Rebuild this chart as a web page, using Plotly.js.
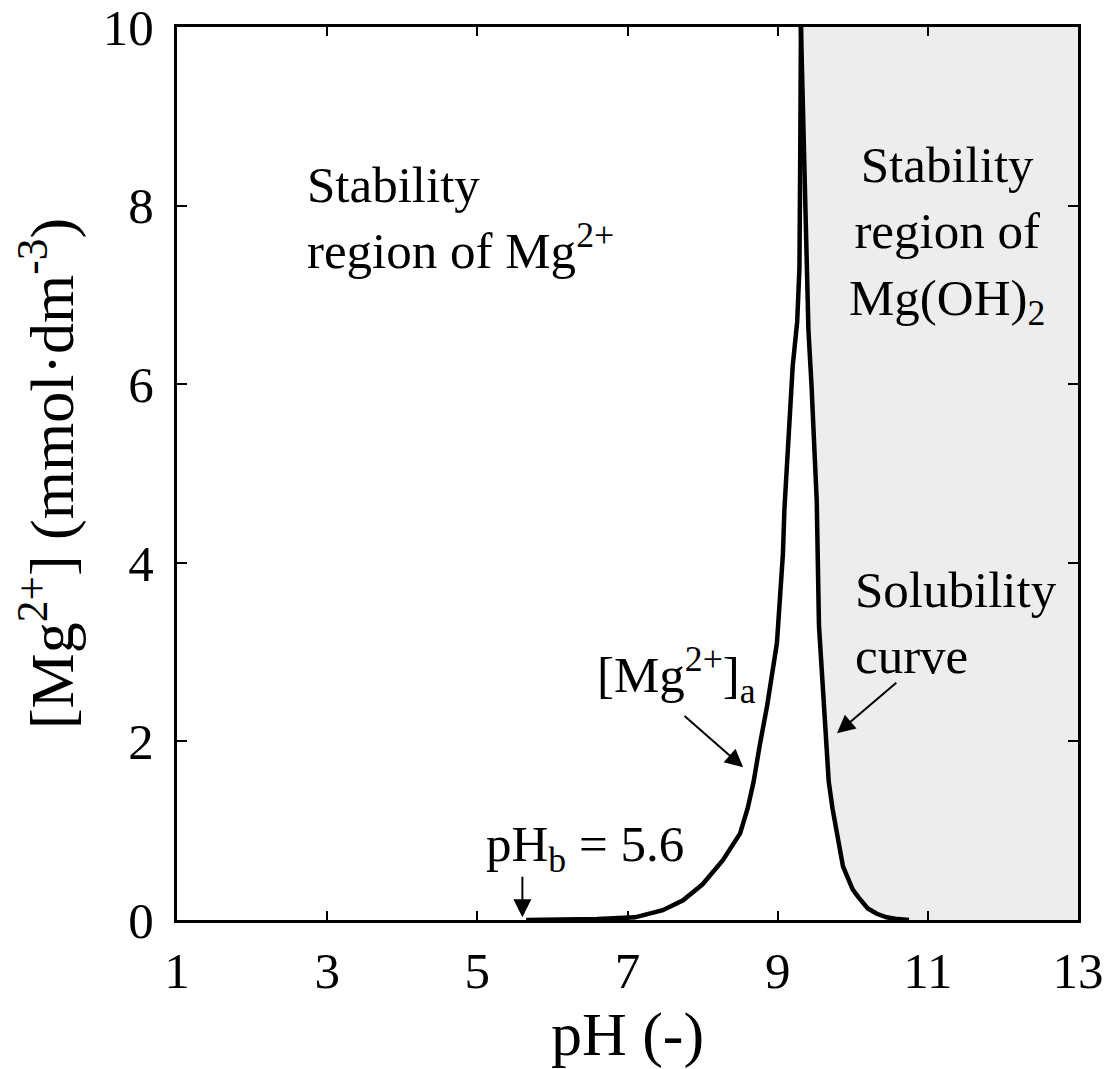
<!DOCTYPE html>
<html>
<head>
<meta charset="utf-8">
<script src="https://cdn.plot.ly/plotly-3.0.1.min.js"></script>
<style>html,body{margin:0;padding:0;background:#fff;}#chart{width:1109px;height:1069px;}</style>
</head>
<body>
<div id="chart"></div>
<script>
// [Mg2+]a curve (left branch)
var mgA_pH  = [5.65, 6.00, 6.60, 7.10, 7.30, 7.47, 7.74, 8.00, 8.27, 8.50, 8.60, 8.68, 8.76, 8.86, 8.99, 9.07, 9.09, 9.12, 9.16, 9.20, 9.26, 9.29, 9.30, 9.31];
var mgA_val = [0.00, 0.00, 0.01, 0.03, 0.07, 0.11, 0.22, 0.40, 0.67, 0.97, 1.25, 1.55, 1.95, 2.40, 3.10, 4.10, 4.60, 5.10, 5.60, 6.20, 6.70, 7.30, 8.50, 10.00];

// Solubility curve of Mg(OH)2 (right branch)
var sol_pH  = [9.31, 9.34, 9.36, 9.38, 9.41, 9.45, 9.49, 9.52, 9.55, 9.60, 9.64, 9.68, 9.73, 9.79, 9.87, 9.93, 10.00, 10.08, 10.20, 10.32, 10.45, 10.60, 10.75];
var sol_val = [10.0, 9.0, 8.2, 7.5, 6.6, 6.0, 5.3, 4.7, 3.3, 2.6, 2.0, 1.55, 1.25, 0.97, 0.60, 0.48, 0.34, 0.25, 0.13, 0.07, 0.03, 0.01, 0.00];

var xRange = [1, 13];
var yRange = [0, 10];
var xTicks = [1, 3, 5, 7, 9, 11, 13];
var yTicks = [0, 2, 4, 6, 8, 10];
var pHb = 5.6;

var FONT = "Liberation Serif, Times New Roman, serif";

var shadeX = sol_pH.concat([xRange[1], xRange[1]]);
var shadeY = sol_val.concat([yRange[0], yRange[1]]);

var traces = [
  {x: shadeX, y: shadeY, type: 'scatter', mode: 'lines', fill: 'toself',
   fillcolor: '#ededed', line: {width: 0, color: 'rgba(0,0,0,0)'}, hoverinfo: 'skip', showlegend: false},
  {x: mgA_pH, y: mgA_val, type: 'scatter', mode: 'lines',
   line: {color: '#000', width: 4.5}, showlegend: false},
  {x: sol_pH, y: sol_val, type: 'scatter', mode: 'lines',
   line: {color: '#000', width: 4.5}, showlegend: false}
];

var txt = {family: FONT, size: 51, color: '#000'};

var annotations = [
  {xref: 'x', yref: 'y', x: 2.71, y: 7.86, xanchor: 'left', yanchor: 'middle', align: 'left',
   text: 'Stability<br>region of Mg<sup>2+</sup>', showarrow: false, font: txt},
  {xref: 'x', yref: 'y', x: 11.26, y: 7.67, xanchor: 'center', yanchor: 'middle', align: 'center',
   text: 'Stability<br>region of<br>Mg(OH)<sub>2</sub>', showarrow: false, font: txt},
  {xref: 'x', yref: 'y', x: 10.0, y: 3.33, xanchor: 'left', yanchor: 'middle', align: 'left',
   text: 'Solubility<br>curve', showarrow: false, font: txt},
  {xref: 'x', yref: 'y', x: 7.65, y: 2.74, xanchor: 'center', yanchor: 'middle',
   text: '[Mg<sup>2+</sup>]<sub>a</sub>', showarrow: false, font: txt},
  {xref: 'x', yref: 'y', x: 6.43, y: 0.81, xanchor: 'center', yanchor: 'middle',
   text: 'pH<sub>b</sub> = 5.6', showarrow: false, font: txt},
  // arrows
  {xref: 'x', yref: 'y', axref: 'x', ayref: 'y', x: pHb, y: 0.03, ax: pHb, ay: 0.50,
   text: '', showarrow: true, arrowhead: 2, arrowsize: 1.8, arrowwidth: 2, arrowcolor: '#000'},
  {xref: 'x', yref: 'y', axref: 'x', ayref: 'y', x: 8.54, y: 1.71, ax: 7.74, ay: 2.30,
   text: '', showarrow: true, arrowhead: 2, arrowsize: 1.8, arrowwidth: 2, arrowcolor: '#000'},
  {xref: 'x', yref: 'y', axref: 'x', ayref: 'y', x: 9.79, y: 2.09, ax: 10.60, ay: 2.67,
   text: '', showarrow: true, arrowhead: 2, arrowsize: 1.8, arrowwidth: 2, arrowcolor: '#000'}
];

var layout = {
  width: 1109, height: 1069,
  margin: {l: 177, r: 31, t: 27, b: 149},
  paper_bgcolor: '#fff', plot_bgcolor: '#fff',
  font: {family: FONT, color: '#000'},
  showlegend: false,
  xaxis: {
    range: xRange, tickvals: xTicks, ticktext: xTicks.map(String),
    ticks: 'inside', ticklen: 9, tickwidth: 2, tickcolor: '#000',
    showline: true, linewidth: 3, linecolor: '#000', mirror: 'ticks',
    showgrid: false, zeroline: false,
    tickfont: {family: FONT, size: 51, color: '#000'},
    ticklabelstandoff: 4, ticklabeloverflow: 'allow',
    title: {text: 'pH (-)', font: {family: FONT, size: 62, color: '#000'}, standoff: 18}
  },
  yaxis: {
    range: yRange, tickvals: yTicks, ticktext: yTicks.map(String),
    ticks: 'inside', ticklen: 10, tickwidth: 2, tickcolor: '#000',
    showline: true, linewidth: 3, linecolor: '#000', mirror: 'ticks',
    showgrid: false, zeroline: false,
    tickfont: {family: FONT, size: 51, color: '#000'},
    ticklabelstandoff: 10, ticklabeloverflow: 'allow',
    title: {text: '[Mg<sup>2+</sup>] (mmol·dm<sup>-3</sup>)', font: {family: FONT, size: 62, color: '#000'}, standoff: 10}
  },
  annotations: annotations
};

Plotly.newPlot('chart', traces, layout, {staticPlot: true, displayModeBar: false});
</script>
</body>
</html>
